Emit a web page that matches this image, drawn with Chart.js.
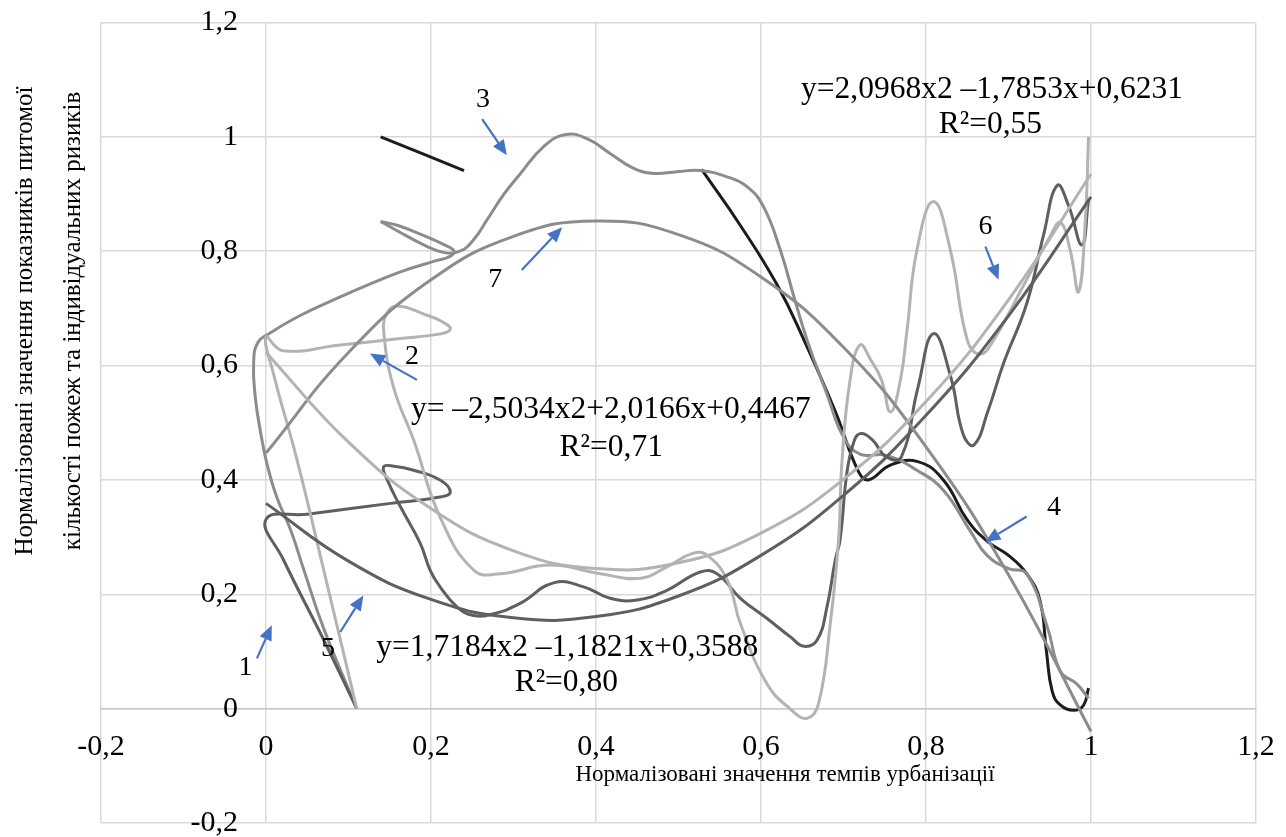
<!DOCTYPE html>
<html>
<head>
<meta charset="utf-8">
<script src="https://cdn.jsdelivr.net/npm/chart.js@4.4.1/dist/chart.umd.min.js"></script>
<style>
  html, body { margin: 0; padding: 0; background: #fff; }
  #wrap { width: 1286px; height: 837px; }
</style>
</head>
<body>
<div id="wrap"><canvas id="myChart" width="1286" height="837"></canvas></div>
<script>
// axis ticks
const tickValues = [-0.2, 0, 0.2, 0.4, 0.6, 0.8, 1, 1.2];

// trend lines at x = 0, 0.1 ... 1
const trendX = [0, 0.1, 0.2, 0.3, 0.4, 0.5, 0.6, 0.7, 0.8, 0.9, 1];
const trendLight = [0.623, 0.466, 0.350, 0.276, 0.245, 0.255, 0.307, 0.401, 0.537, 0.715, 0.935];
const trendMid = [0.447, 0.623, 0.750, 0.826, 0.853, 0.829, 0.755, 0.632, 0.458, 0.234, -0.040];
const trendDark = [0.359, 0.258, 0.191, 0.159, 0.161, 0.197, 0.268, 0.373, 0.513, 0.687, 0.895];

// series, [x, y]
const blackShort = [[0.139, 1.0], [0.240, 0.941]];
const blackLong = [[0.528, 0.943], [0.575, 0.845], [0.62, 0.74], [0.652, 0.645], [0.69, 0.52], [0.718, 0.415],
  [0.73, 0.40], [0.757, 0.426], [0.79, 0.432], [0.821, 0.40], [0.85, 0.33], [0.874, 0.293], [0.90, 0.268],
  [0.922, 0.236], [0.938, 0.19], [0.946, 0.10], [0.953, 0.03], [0.963, 0.006], [0.979, -0.003], [0.991, 0.006], [0.997, 0.036]];

const midLoop = [[0.139, 0.852], [0.16, 0.845], [0.19, 0.828], [0.215, 0.812], [0.228, 0.800], [0.222, 0.790],
  [0.205, 0.783], [0.163, 0.764], [0.125, 0.742], [0.09, 0.72], [0.042, 0.688], [0.005, 0.657], [-0.01, 0.64],
  [-0.015, 0.604], [-0.013, 0.545], [-0.007, 0.487], [0.001, 0.429], [0.013, 0.37], [0.03, 0.312], [0.046, 0.242],
  [0.07, 0.14], [0.11, 0.0]];
const midUpper = [[0.139, 0.852], [0.16, 0.835], [0.19, 0.812], [0.215, 0.798], [0.235, 0.800], [0.2516, 0.82],
  [0.268, 0.855], [0.288, 0.899], [0.308, 0.935], [0.3365, 0.983], [0.363, 1.004], [0.389, 0.997], [0.417, 0.971],
  [0.4456, 0.945], [0.47, 0.936], [0.498, 0.939], [0.5265, 0.941], [0.5588, 0.930], [0.583, 0.913], [0.603, 0.878],
  [0.6234, 0.802], [0.64, 0.72], [0.656, 0.644], [0.68, 0.55], [0.70, 0.475], [0.72, 0.445], [0.752, 0.443],
  [0.789, 0.417], [0.821, 0.382], [0.854, 0.31], [0.874, 0.268], [0.90, 0.245], [0.922, 0.236], [0.947, 0.143],
  [0.963, 0.065], [0.983, 0.043], [0.997, 0.018]];

const lightSeries = [[0.11, 0.0], [0.07, 0.242], [0.0376, 0.435], [0.009, 0.586], [0.0, 0.65], [0.02, 0.626],
  [0.09, 0.636], [0.16, 0.647], [0.21, 0.655], [0.2234, 0.664], [0.212, 0.678], [0.195, 0.688], [0.159, 0.704],
  [0.146, 0.69], [0.143, 0.655], [0.155, 0.56], [0.179, 0.47], [0.211, 0.335], [0.252, 0.242], [0.284, 0.236],
  [0.345, 0.251], [0.405, 0.236], [0.454, 0.228], [0.486, 0.248], [0.518, 0.272], [0.535, 0.268], [0.559, 0.225],
  [0.575, 0.149], [0.607, 0.044], [0.635, 0.0], [0.656, -0.017], [0.67, 0.01], [0.684, 0.149], [0.694, 0.295],
  [0.698, 0.429], [0.708, 0.575], [0.72, 0.636], [0.733, 0.61], [0.746, 0.575], [0.757, 0.519], [0.769, 0.575],
  [0.777, 0.662], [0.789, 0.802], [0.809, 0.887], [0.8295, 0.802], [0.85, 0.645], [0.865, 0.62], [0.88, 0.64],
  [0.92, 0.745], [0.95, 0.825], [0.963, 0.85], [0.975, 0.80], [0.985, 0.729], [0.993, 0.85], [0.997, 1.0]];

const darkSeries = [[0.11, 0.0], [0.07, 0.12], [0.0213, 0.26], [0.0, 0.331], [0.05, 0.34], [0.151, 0.359],
  [0.211, 0.370], [0.2234, 0.379], [0.211, 0.40], [0.179, 0.417], [0.155, 0.424], [0.1426, 0.423], [0.147, 0.40],
  [0.163, 0.353], [0.187, 0.289], [0.199, 0.242], [0.211, 0.213], [0.2315, 0.178], [0.2516, 0.163], [0.276, 0.166],
  [0.308, 0.184], [0.3486, 0.22], [0.385, 0.213], [0.417, 0.193], [0.45, 0.19], [0.486, 0.207], [0.5264, 0.239],
  [0.5467, 0.236], [0.575, 0.193], [0.607, 0.158], [0.636, 0.125], [0.652, 0.109], [0.668, 0.12], [0.68, 0.178],
  [0.69, 0.26], [0.6958, 0.295], [0.704, 0.411], [0.712, 0.464], [0.72, 0.481], [0.735, 0.47], [0.752, 0.44],
  [0.77, 0.44], [0.79, 0.56], [0.809, 0.656], [0.83, 0.58], [0.845, 0.48], [0.858, 0.461], [0.875, 0.52],
  [0.894, 0.604], [0.922, 0.708], [0.9426, 0.829], [0.959, 0.915], [0.973, 0.879], [0.989, 0.811], [0.997, 0.89]];

// curve numbers and their arrows (data units)
const curveNames = ['1', '2', '3', '4', '5', '6', '7'];
const namePos = [[-0.025, 0.071], [0.177, 0.615], [0.263, 1.065], [0.955, 0.351], [0.075, 0.105], [0.872, 0.843], [0.278, 0.750]];
const arrowFrom = [[-0.011, 0.088], [0.183, 0.575], [0.262, 1.031], [0.922, 0.336], [0.090, 0.134], [0.872, 0.808], [0.310, 0.767]];
const arrowTo = [[0.007, 0.146], [0.126, 0.621], [0.292, 0.968], [0.872, 0.292], [0.118, 0.198], [0.888, 0.750], [0.359, 0.842]];

const equations = [
  ['y=2,0968x2 \u20131,7853x+0,6231', 'R\u00b2=0,55'],
  ['y= \u20132,5034x2+2,0166x+0,4467', 'R\u00b2=0,71'],
  ['y=1,7184x2 \u20131,1821x+0,3588', 'R\u00b2=0,80']
];
const equationPos = [[[0.880, 1.082], [0.878, 1.021]], [[0.418, 0.522], [0.4185, 0.456]], [[0.3652, 0.107], [0.364, 0.046]]];

const xTitle = 'Нормалізовані значення темпів урбанізації';
const yTitle = ['Нормалізовані значення показників питомої', 'кількості пожеж та індивідуальних ризиків'];

const serif = "'Liberation Serif', 'Times New Roman', serif";

function pts(arr) { return arr.map(p => ({x: p[0], y: p[1]})); }
function line(arr, color) {
  return { data: pts(arr), showLine: true, borderColor: color, borderWidth: 3, pointRadius: 0, tension: 0.45, fill: false };
}
function fmt(v) { return String(Math.round(v * 10) / 10).replace('.', ','); }

const extras = {
  id: 'extras',
  afterDraw(chart) {
    const ctx = chart.ctx, sx = chart.scales.x, sy = chart.scales.y;
    const px = p => [sx.getPixelForValue(p[0]), sy.getPixelForValue(p[1])];
    ctx.save();
    // arrows
    ctx.strokeStyle = '#4472c4'; ctx.fillStyle = '#4472c4'; ctx.lineWidth = 2.2;
    arrowFrom.forEach((f, i) => {
      const [x1, y1] = px(f), [x2, y2] = px(arrowTo[i]);
      const a = Math.atan2(y2 - y1, x2 - x1), hl = 15, hw = 6.5;
      const bx = x2 - hl * Math.cos(a), by = y2 - hl * Math.sin(a);
      ctx.beginPath(); ctx.moveTo(x1, y1); ctx.lineTo(bx, by); ctx.stroke();
      ctx.beginPath(); ctx.moveTo(x2, y2);
      ctx.lineTo(bx + hw * Math.sin(a), by - hw * Math.cos(a));
      ctx.lineTo(bx - hw * Math.sin(a), by + hw * Math.cos(a));
      ctx.closePath(); ctx.fill();
    });
    ctx.fillStyle = '#000';
    ctx.textAlign = 'center'; ctx.textBaseline = 'middle';
    ctx.font = '28px ' + serif;
    curveNames.forEach((n, i) => { const [x, y] = px(namePos[i]); ctx.fillText(n, x, y); });
    ctx.font = '31.5px ' + serif;
    equations.forEach((eq, i) => {
      eq.forEach((t, j) => { const [x, y] = px(equationPos[i][j]); ctx.fillText(t, x, y); });
    });
    // axis titles
    ctx.font = '23px ' + serif;
    ctx.fillText(xTitle, 785, 775);
    ctx.font = '25px ' + serif;
    ctx.translate(49, 321); ctx.rotate(-Math.PI / 2);
    ctx.fillText(yTitle[0], 0, -24);
    ctx.fillText(yTitle[1], 0, 24);
    ctx.restore();
  }
};

const tickFont = { family: serif, size: 30 };

new Chart(document.getElementById('myChart'), {
  type: 'scatter',
  data: {
    datasets: [
      line(trendX.map((x, i) => [x, trendLight[i]]), '#b3b3b3'),
      line(trendX.map((x, i) => [x, trendMid[i]]), '#8c8c8c'),
      line(trendX.map((x, i) => [x, trendDark[i]]), '#5f5f5f'),
      line(lightSeries, '#b3b3b3'),
      line(darkSeries, '#5f5f5f'),
      line(midLoop, '#8c8c8c'),
      line(midUpper, '#8c8c8c'),
      line(blackShort, '#1c1c1c'),
      line(blackLong, '#1c1c1c')
    ]
  },
  options: {
    responsive: false,
    animation: false,
    devicePixelRatio: 1,
    layout: { padding: { left: 101, top: 22.5, right: 30, bottom: 14 } },
    plugins: { legend: { display: false }, tooltip: { enabled: false } },
    scales: {
      x: {
        type: 'linear', min: -0.2, max: 1.2,
        position: { y: 0 },
        afterBuildTicks: s => { s.ticks = tickValues.map(v => ({ value: v })); },
        afterFit: s => { s.paddingLeft = 0; s.paddingRight = 0; },
        grid: { color: '#d9d9d9', lineWidth: 1.5, drawTicks: false },
        border: { color: '#c8c8c8', width: 1.5 },
        ticks: { font: tickFont, color: '#000', padding: 20, callback: fmt, maxRotation: 0, autoSkip: false }
      },
      y: {
        type: 'linear', min: -0.2, max: 1.2,
        // labels sit a little left of the x = 0 line
        position: { x: -0.034 },
        afterBuildTicks: s => { s.ticks = tickValues.map(v => ({ value: v })); },
        afterFit: s => { s.paddingTop = 0; s.paddingBottom = 0; },
        grid: { color: '#d9d9d9', lineWidth: 1.5, drawTicks: false },
        border: { display: false },
        ticks: { font: tickFont, color: '#000', callback: fmt, autoSkip: false }
      }
    }
  },
  plugins: [extras]
});
</script>
</body>
</html>
